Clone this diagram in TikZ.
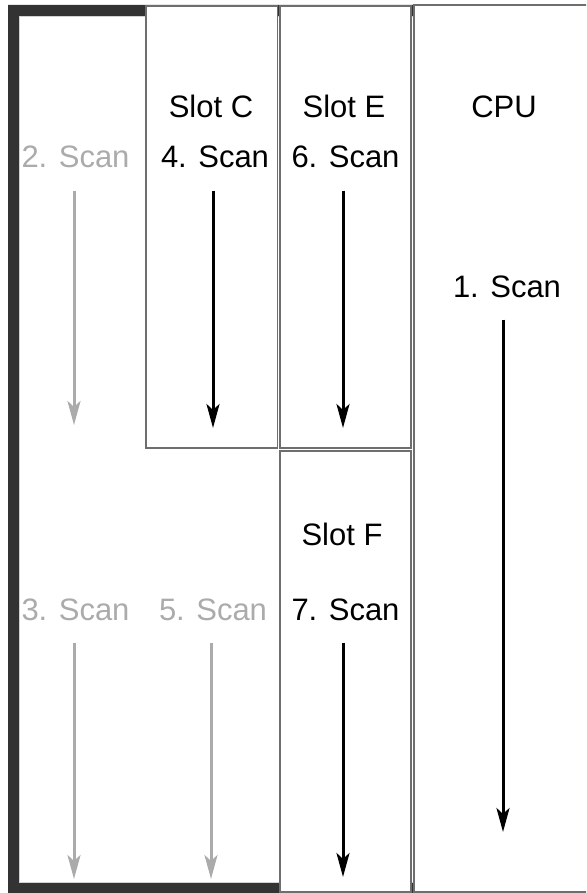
\documentclass[tikz,border=0pt]{standalone}
\usepackage{fontspec}
\setmainfont{Liberation Sans}
\usetikzlibrary{arrows.meta}
\definecolor{framedark}{HTML}{333333}
\definecolor{frameinner}{HTML}{D2D2D2}
\definecolor{edgegray}{HTML}{6E6E6E}
\definecolor{fadegray}{HTML}{ABABAB}

\begin{document}
\begin{tikzpicture}[
    x=0.5pt, y=-0.5pt,
    font=\fontsize{15.5}{18}\selectfont,
    >={Stealth[length=12pt, width=6.5pt, inset=3pt]},
    frame band/.style={fill=framedark, even odd rule},
    slot box/.style={draw=edgegray, fill=white, line width=0.75pt},
    slot title/.style={anchor=base, inner sep=0pt, text=black},
    scan label/.style={anchor=base, inner sep=0pt, text=black},
    done label/.style={anchor=base, inner sep=0pt, text=fadegray},
    scan arrow/.style={draw=black, line width=1.5pt, ->, shorten <=11pt},
    done arrow/.style={draw=fadegray, line width=1.5pt, ->, shorten <=11pt},
]

% ══════════════════════════════════════════════════════════════════════
%  CANVAS — pixel grid of the reference, y grows downwards
% ══════════════════════════════════════════════════════════════════════
\useasboundingbox (0,0) rectangle (586,893);
\clip (0,0) rectangle (586,893);

% ── outer frame (behind the slots) ────────────────────────────────────
\fill[frame band] (8,5) rectangle (425,893) (19,16) rectangle (425,883);
\draw[frameinner, line width=0.5pt] (19.5,16.5) rectangle (425,882.5);

% ── slots ─────────────────────────────────────────────────────────────
\draw[slot box] (146,6) rectangle (277.5,448);   % Slot C
\draw[slot box] (280,6) rectangle (411,448);     % Slot E
\draw[slot box] (280,451) rectangle (411,892);   % Slot F
\draw[slot box] (414,5) rectangle (600,892);     % CPU

\node[slot title] (slotC) at (211,118) {Slot C};
\node[slot title] (slotE) at (344,118) {Slot E};
\node[slot title] (cpu)   at (504,118) {CPU};
\node[slot title] (slotF) at (342,545) {Slot F};

% ── scan labels ───────────────────────────────────────────────────────
\node[scan label] (scan1) at (507,297)   {1. Scan};
\node[done label] (scan2) at (75.5,168)  {2. Scan};
\node[done label] (scan3) at (75.5,620)  {3. Scan};
\node[scan label] (scan4) at (215,168)   {4. Scan};
\node[done label] (scan5) at (213,620)   {5. Scan};
\node[scan label] (scan6) at (345.5,168) {6. Scan};
\node[scan label] (scan7) at (345.5,620) {7. Scan};

% ── arrow ends ────────────────────────────────────────────────────────
\coordinate (end1) at (503,832);
\coordinate (end2) at (74,425);
\coordinate (end3) at (74,879);
\coordinate (end4) at (213,428);
\coordinate (end5) at (211,879);
\coordinate (end6) at (343,428);
\coordinate (end7) at (343,877);

% ── scan arrows ───────────────────────────────────────────────────────
\draw[scan arrow] (end1 |- scan1.south) -- (end1);
\draw[done arrow] (end2 |- scan2.south) -- (end2);
\draw[done arrow] (end3 |- scan3.south) -- (end3);
\draw[scan arrow] (end4 |- scan4.south) -- (end4);
\draw[done arrow] (end5 |- scan5.south) -- (end5);
\draw[scan arrow] (end6 |- scan6.south) -- (end6);
\draw[scan arrow] (end7 |- scan7.south) -- (end7);

\end{tikzpicture}
\end{document}
